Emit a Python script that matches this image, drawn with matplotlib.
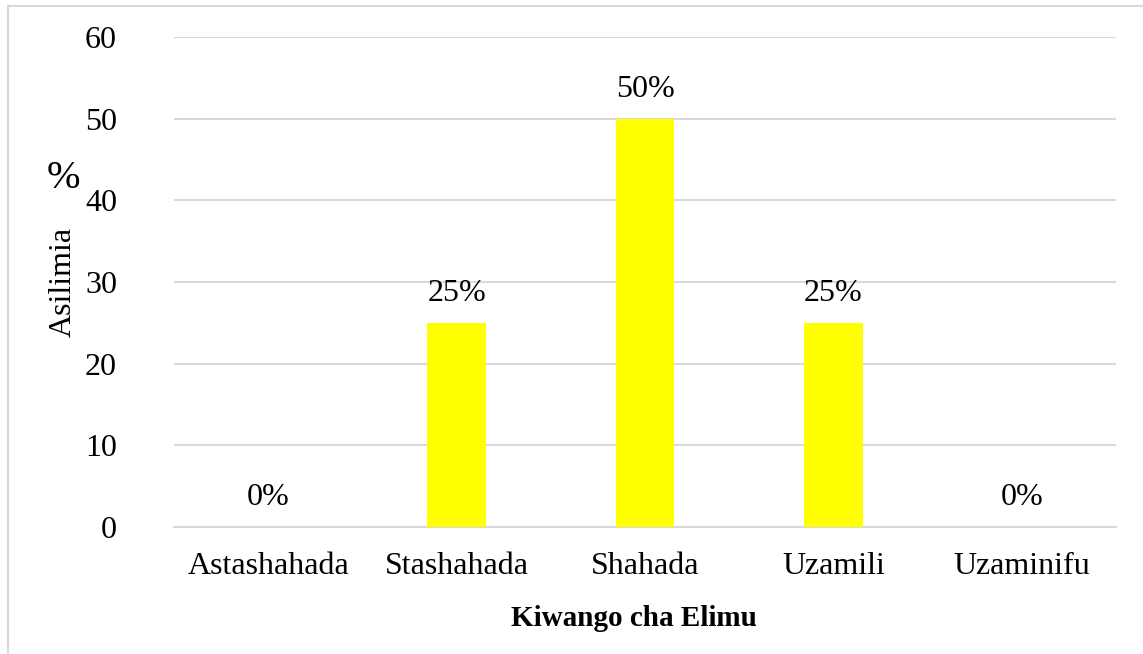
import matplotlib.pyplot as plt
from matplotlib.patches import Rectangle

categories = ['Astashahada', 'Stashahada', 'Shahada', 'Uzamili', 'Uzaminifu']
values = [0, 25, 50, 25, 0]
labels = ['0%', '25%', '50%', '25%', '0%']
yticks = [0, 10, 20, 30, 40, 50, 60]

plt.rcParams['font.family'] = ['Liberation Serif', 'DejaVu Serif']

fig = plt.figure(figsize=(11.43, 6.54), dpi=100)
ax = fig.add_axes([174 / 1143, 1 - 527 / 654, (1116 - 174) / 1143, (527 - 37) / 654])

x = list(range(len(categories)))
bars = ax.bar(x, values, width=0.31, color='#FFFF00', zorder=3)

# value labels above the bars
for xi, v, lab in zip(x, values, labels):
    ax.annotate(lab, (xi, v), xytext=(0, 21), textcoords='offset points',
                ha='center', va='center', fontsize=23)

ax.set_xlim(-0.5, len(categories) - 0.5)
ax.set_ylim(0, 60)
ax.set_yticks(yticks)
ax.set_xticks(x)
ax.set_xticklabels(categories, fontsize=23)
ax.set_yticklabels([str(t) for t in yticks], fontsize=23)
ax.tick_params(axis='y', length=0, pad=41)
ax.tick_params(axis='x', length=0, pad=18)

ax.grid(axis='y', color='#d9d9d9', linewidth=1.5, zorder=0)
for s in ['top', 'right', 'left']:
    ax.spines[s].set_visible(False)
ax.spines['bottom'].set_color('#d9d9d9')
ax.spines['bottom'].set_linewidth(1.5)

fig.text(634 / 1143, 1 - 618 / 654, 'Kiwango cha Elimu', ha='center', va='center',
         fontsize=21, fontweight='bold')
fig.text(63 / 1143, 1 - 282 / 654, 'Asilimia', rotation=90, ha='center', va='center',
         fontsize=23)
fig.text(63 / 1143, 1 - 179 / 654, '%', ha='center', va='center', fontsize=29)

# chart area border (cropped at right and bottom)
fig.patches.append(Rectangle((8 / 1143, -0.1), 1.2, 1.1 - 6 / 654, transform=fig.transFigure,
                             fill=False, edgecolor='#d9d9d9', linewidth=1.5))

fig.savefig('out.png', dpi=100)
